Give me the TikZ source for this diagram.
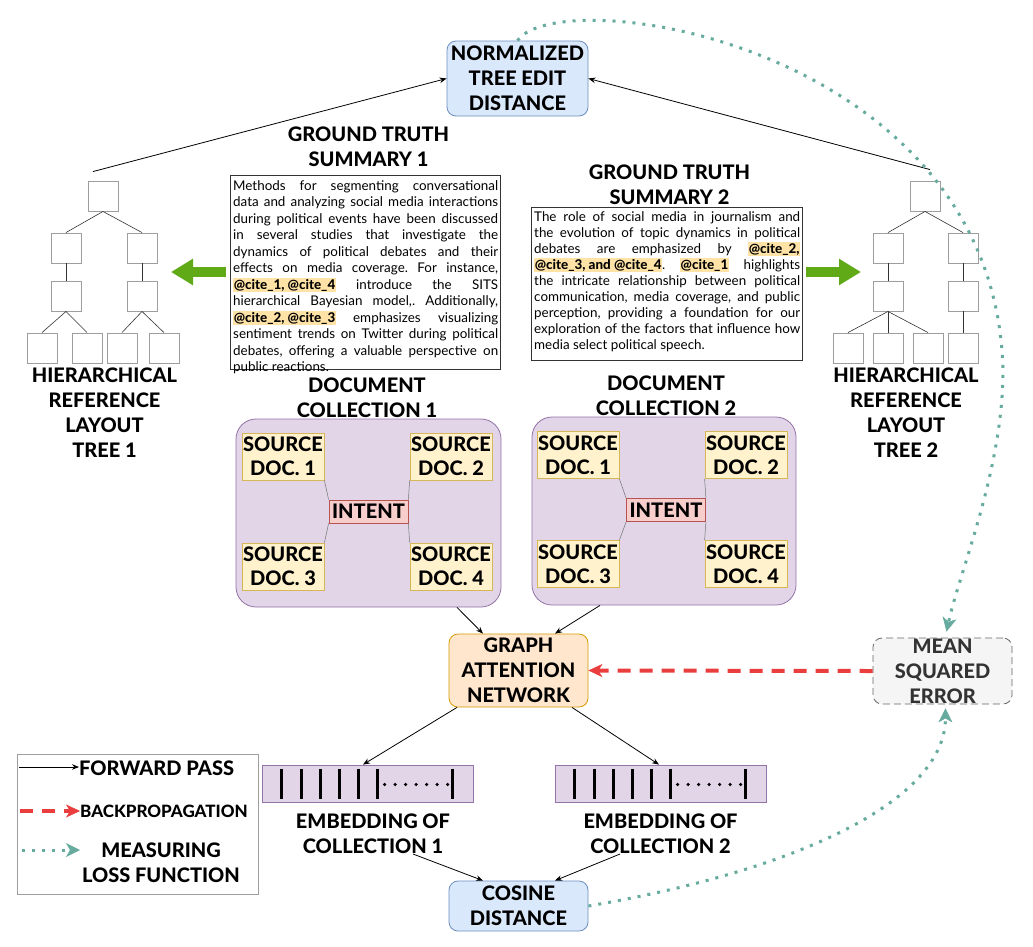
\documentclass[tikz,border=0pt]{standalone}
\usepackage{fontspec}
\setmainfont{Lato}[BoldFont={Lato Heavy}]
\usetikzlibrary{arrows.meta,calc}
\definecolor{bluef}{HTML}{DAE8FC}
\definecolor{blued}{HTML}{6C8EBF}
\definecolor{purf}{HTML}{E1D5E7}
\definecolor{purd}{HTML}{9673A6}
\definecolor{yelf}{HTML}{FFF2CC}
\definecolor{yeld}{HTML}{D6B656}
\definecolor{redf}{HTML}{F8CECC}
\definecolor{redd}{HTML}{B85450}
\definecolor{orf}{HTML}{FFE6CC}
\definecolor{ord}{HTML}{D79B00}
\definecolor{grf}{HTML}{F5F5F5}
\definecolor{grd}{HTML}{666666}
\definecolor{tealc}{HTML}{67AB9F}
\definecolor{redarr}{HTML}{EA3D3D}
\definecolor{greenc}{HTML}{60A917}
\definecolor{hlc}{HTML}{FFE3A6}
\definecolor{treeg}{HTML}{9E9E9E}
\newcommand{\hlite}[1]{{\setlength{\fboxsep}{0.6pt}\colorbox{hlc}{\textbf{#1}}}}
\frenchspacing
\begin{document}
\begin{tikzpicture}[x=1pt,y=-1pt,
  lbl/.style={font=\fontsize{20}{25}\selectfont\bfseries, align=center, inner sep=0pt},
  docf/.style={font=\fontsize{20}{24}\selectfont\bfseries, align=center, inner sep=0pt},
  rbox/.style={draw, rounded corners=9pt, line width=0.8pt},
  tb/.style={draw=treeg, fill=white, minimum size=30pt, inner sep=0pt, line width=0.9pt},
  tedge/.style={draw=black!80, line width=0.6pt},
  dedge/.style={draw=black!55, line width=0.5pt},
  fwd/.style={-{Stealth[length=7pt,width=5.5pt]}, line width=0.8pt, draw=black},
  back/.style={draw=redarr, line width=4pt, dash pattern=on 13pt off 9pt, -{Stealth[length=14pt,width=13pt,inset=4pt,line width=0.5pt]}},
  loss/.style={draw=tealc, line width=3pt, dash pattern=on 3pt off 7pt, -{Stealth[length=14pt,width=14pt,inset=4pt,line width=0.5pt]}},
  garrow/.style={draw=greenc, line width=10pt, -{Triangle[length=22pt,width=25pt]}},
  docbox/.style={docf, draw=yeld, fill=yelf, line width=0.8pt, minimum width=82pt, minimum height=47pt},
  intbox/.style={docf, draw=redd, fill=redf, line width=0.8pt, minimum width=79pt, minimum height=23pt}
]
\path[use as bounding box, fill=white] (0,0) rectangle (1033,946);

% top box
\node[rbox, fill=bluef, draw=blued, minimum width=141pt, minimum height=75pt, lbl] (nted) at (517.5,78.5) {NORMALIZED\\TREE EDIT\\DISTANCE};

% ground truth summaries
\node[lbl] (gt1t) at (368.5,147) {GROUND TRUTH\\SUMMARY 1};
\node[draw=black!80, line width=0.8pt, minimum width=270pt, minimum height=194pt, inner sep=0pt] (gt1box) at (365,272) {};
\node[anchor=north west, inner sep=0pt, font=\fontsize{13.4}{16.5}\selectfont] (gt1txt) at (233,180) {\parbox[t]{265pt}{%
Methods for segmenting conversational\linebreak
data and analyzing social media interactions\linebreak
during political events have been discussed\linebreak
in several studies that investigate the\linebreak
dynamics of political debates and their\linebreak
effects on media coverage. For instance,\linebreak
\hlite{@cite\_1, @cite\_4} introduce the SITS\linebreak
hierarchical Bayesian model,. Additionally,\linebreak
\hlite{@cite\_2, @cite\_3} emphasizes visualizing\linebreak
sentiment trends on Twitter during political\linebreak
debates, offering a valuable perspective on\linebreak
public reactions.}};

\node[lbl] (gt2t) at (669.5,185) {GROUND TRUTH\\SUMMARY 2};
\node[draw=black!80, line width=0.8pt, minimum width=271pt, minimum height=153pt, inner sep=0pt] (gt2box) at (666.5,283.5) {};
\node[anchor=north west, inner sep=0pt, font=\fontsize{13.4}{16}\selectfont] (gt2txt) at (534,211) {\parbox[t]{266pt}{%
The role of social media in journalism and\linebreak
the evolution of topic dynamics in political\linebreak
debates are emphasized by \hlite{@cite\_2,}\linebreak
\hlite{@cite\_3, and @cite\_4}. \hlite{@cite\_1} highlights\linebreak
the intricate relationship between political\linebreak
communication, media coverage, and public\linebreak
perception, providing a foundation for our\linebreak
exploration of the factors that influence how\linebreak
media select political speech.}};

% tree 1
\node[tb] (t1r) at (103,196) {};
\node[tb] (t1a) at (66,248) {};
\node[tb] (t1b) at (142,248) {};
\node[tb] (t1c) at (66,296) {};
\node[tb] (t1d) at (142,296) {};
\node[tb] (t1e) at (42,348) {};
\node[tb] (t1f) at (87,348) {};
\node[tb] (t1g) at (122,348) {};
\node[tb] (t1h) at (164,348) {};
\draw[tedge] (t1r.south) -- (t1a.north);
\draw[tedge] (t1r.south) -- (t1b.north);
\draw[tedge] (t1a.south) -- (t1c.north);
\draw[tedge] (t1b.south) -- (t1d.north);
\draw[tedge] (t1c.south) -- (t1e.north);
\draw[tedge] (t1c.south) -- (t1f.north);
\draw[tedge] (t1d.south) -- (t1g.north);
\draw[tedge] (t1d.south) -- (t1h.north);
\node[lbl] (t1l) at (104.5,412.5) {HIERARCHICAL\\REFERENCE\\LAYOUT\\TREE 1};

% tree 2
\node[tb] (t2r) at (925,196) {};
\node[tb] (t2a) at (888,248) {};
\node[tb] (t2b) at (963,248) {};
\node[tb] (t2c) at (888,296) {};
\node[tb] (t2d) at (963,296) {};
\node[tb] (t2e) at (848,348) {};
\node[tb] (t2f) at (888,348) {};
\node[tb] (t2g) at (928,348) {};
\node[tb] (t2h) at (963,348) {};
\draw[tedge] (t2r.south) -- (t2a.north);
\draw[tedge] (t2r.south) -- (t2b.north);
\draw[tedge] (t2a.south) -- (t2c.north);
\draw[tedge] (t2b.south) -- (t2d.north);
\draw[tedge] (t2c.south) -- (t2e.north);
\draw[tedge] (t2c.south) -- (t2f.north);
\draw[tedge] (t2c.south) -- (t2g.north);
\draw[tedge] (t2d.south) -- (t2h.north);
\node[lbl] (t2l) at (906,412.5) {HIERARCHICAL\\REFERENCE\\LAYOUT\\TREE 2};

% green arrows
\coordinate (g1e) at (171,272);
\draw[garrow] ($(gt1box.west)+(-4,0)$) -- (g1e);
\coordinate (g2s) at (806,272);
\coordinate (g2e) at (861,272);
\draw[garrow] (g2s) -- (g2e);

% trees to NTED
\draw[fwd] ($(t1r.north)+(-10,-9)$) -- (nted.west);
\draw[fwd] ($(t2r.north)+(5,-11)$) -- (nted.east);

% collections
\node[lbl] (c1t) at (367,398) {DOCUMENT\\COLLECTION 1};
\node[rbox, rounded corners=20pt, fill=purf, draw=purd, minimum width=265pt, minimum height=188pt, inner sep=0pt] (c1) at (368.5,513) {};
\node[docbox] (d11) at (283,456.5) {SOURCE\\DOC. 1};
\node[docbox] (d12) at (451,456.5) {SOURCE\\DOC. 2};
\node[docbox] (d13) at (283,566.5) {SOURCE\\DOC. 3};
\node[docbox] (d14) at (451,566.5) {SOURCE\\DOC. 4};
\node[intbox] (i1) at (368.5,511.5) {INTENT};
\draw[dedge] (d11.south east) -- (i1.north west);
\draw[dedge] (d12.south west) -- (i1.north east);
\draw[dedge] (d13.north east) -- (i1.south west);
\draw[dedge] (d14.north west) -- (i1.south east);

\node[lbl] (c2t) at (666,396) {DOCUMENT\\COLLECTION 2};
\node[rbox, rounded corners=20pt, fill=purf, draw=purd, minimum width=264pt, minimum height=188pt, inner sep=0pt] (c2) at (664,511) {};
\node[docbox] (d21) at (578,455) {SOURCE\\DOC. 1};
\node[docbox] (d22) at (746,455) {SOURCE\\DOC. 2};
\node[docbox] (d23) at (578,564) {SOURCE\\DOC. 3};
\node[docbox] (d24) at (746,564) {SOURCE\\DOC. 4};
\node[intbox] (i2) at (666,510) {INTENT};
\draw[dedge] (d21.south east) -- (i2.north west);
\draw[dedge] (d22.south west) -- (i2.north east);
\draw[dedge] (d23.north east) -- (i2.south west);
\draw[dedge] (d24.north west) -- (i2.south east);

% GAT
\node[rbox, fill=orf, draw=ord, minimum width=139pt, minimum height=73pt, lbl] (gat) at (518.5,670.5) {GRAPH\\ATTENTION\\NETWORK};
\draw[fwd] ($(c1.south)+(88.5,0)$) -- ($(gat.north)+(-35.5,0)$);
\draw[fwd] ($(c2.south)+(-64,0)$) -- ($(gat.north)+(36.5,0)$);

% embeddings
\node[draw=purd, fill=purf, line width=0.8pt, minimum width=211pt, minimum height=37pt, inner sep=0pt] (e1) at (367.5,783.5) {};
\node[draw=purd, fill=purf, line width=0.8pt, minimum width=211pt, minimum height=37pt, inner sep=0pt] (e2) at (660.5,783.5) {};
\foreach \e in {e1,e2}{
  \foreach \o in {20,40,59,78,97,116,191}
    \draw[line width=3pt] ($(\e.west)+(\o,-15)$) -- ($(\e.west)+(\o,15)$);
  \foreach \o in {123,133.5,...,187}
    \fill ($(\e.west)+(\o,1)$) circle (1.8pt);
}
\draw[fwd] ($(gat.south)+(-61.5,0)$) -- ($(e1.north)+(-4.5,0)$);
\draw[fwd] ($(gat.south)+(53.5,0)$) -- ($(e2.north)+(-1.5,0)$);
\node[lbl] (e1l) at (373,833.5) {EMBEDDING OF\\COLLECTION 1};
\node[lbl] (e2l) at (660.5,833.5) {EMBEDDING OF\\COLLECTION 2};

% cosine
\node[rbox, fill=bluef, draw=blued, minimum width=139pt, minimum height=50pt, lbl] (cos) at (518.5,906) {COSINE\\DISTANCE};
\draw[fwd] ($(e1l.center)+(40,20.5)$) -- ($(cos.north)+(-35.5,0)$);
\draw[fwd] ($(e2l.center)+(-40.5,20.5)$) -- ($(cos.north)+(36.5,0)$);

% MSE
\node[rbox, fill=grf, draw=grd, dash pattern=on 7pt off 4pt, text=black!80, minimum width=139pt, minimum height=66pt, lbl] (mse) at (942.5,671) {MEAN\\SQUARED\\ERROR};
\draw[back] (mse.west) -- (gat.east);
\draw[loss] (cos.east) .. controls (800,870) and (945,800) .. ($(mse.south)+(3,4)$);
\draw[loss] (nted.north) .. controls (560,-20) and (995,45) .. (1003,370) .. controls (1003,470) and (960,570) .. ($(mse.north)+(4,-6)$);

% legend
\node[draw=treeg, line width=0.8pt, minimum width=241pt, minimum height=140pt, inner sep=0pt] (leg) at (137.5,824) {};
\node[lbl, anchor=west] (lf) at (79,768) {FORWARD PASS};
\coordinate (lfs) at (19,767);
\draw[fwd] (lfs) -- (lfs -| lf.west);
\node[font=\fontsize{17}{20}\selectfont\bfseries, anchor=west, inner sep=0pt] (lb) at (80,811) {BACKPROPAGATION};
\coordinate (lbs) at (20,811);
\draw[back] (lbs) -- (lb.west);
\node[lbl] (lm) at (161,862.5) {MEASURING\\LOSS FUNCTION};
\coordinate (lms) at (22,850);
\coordinate (lme) at (80,850);
\draw[loss] (lms) -- (lme);
\end{tikzpicture}
\end{document}
